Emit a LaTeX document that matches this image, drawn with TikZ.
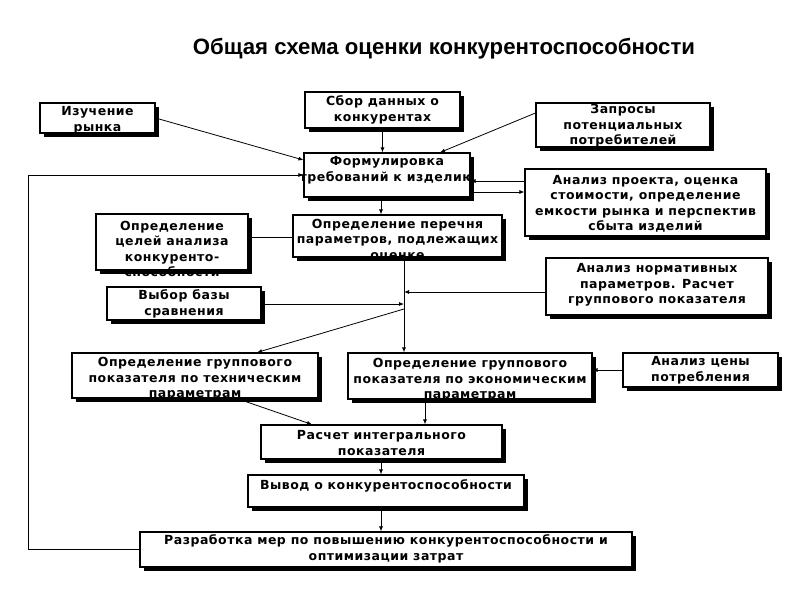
\documentclass[tikz,border=0pt]{standalone}
\usepackage{fontspec}
\setmainfont[LetterSpace=4]{DejaVu Sans}
\newfontfamily\titlefont{Liberation Sans}
\usetikzlibrary{arrows.meta,shadows,calc}
\newcommand\mybox[7]{%
  \node[bx, minimum width={(#4-#2)*1pt}, minimum height={(#5-#3)*1pt}] (#1) at ({(#2+#4)/2},{(#3+#5)/2}) {};
  \node[txt] (#1t) at ({(#2+#4)/2},#6) {#7};
}
\begin{document}
\begin{tikzpicture}[x=1pt,y=-1pt,
  bx/.style={draw=black, line width=1.1pt, fill=white, inner sep=0pt,
    drop shadow={fill=black, opacity=1, shadow xshift=4pt, shadow yshift=-4pt}},
  txt/.style={font=\fontsize{12.5}{15.5}\selectfont\bfseries, align=center, inner sep=0pt},
  ln/.style={line width=0.8pt},
  ar/.style={ln, -{Latex[length=5pt,width=4pt]}}]
\fill[white] (0,0) rectangle (800,600);
\useasboundingbox (0,0) rectangle (800,600);

\node[font=\titlefont\bfseries\fontsize{22.2}{26}\selectfont, inner sep=0pt] (title) at (444,49) {Общая схема оценки конкурентоспособности};

\mybox{izuch}{40}{103}{155}{133}{120}{Изучение\\рынка}
\mybox{sbor}{305}{92}{460}{128}{110}{Сбор данных о\\конкурентах}
\mybox{zapros}{536}{103}{710}{147}{126}{Запросы\\потенциальных\\потребителей}
\mybox{form}{304}{153}{470}{197}{170}{Формулировка\\требований к изделию}
\mybox{analiz}{525}{169}{766}{236}{204}{Анализ проекта, оценка\\стоимости, определение\\емкости рынка и перспектив\\сбыта изделий}
\mybox{celi}{96}{214}{248}{270}{249}{Определение\\целей анализа\\конкуренто-\\способности}
\mybox{perech}{293}{215}{502}{257}{240}{Определение перечня\\параметров, подлежащих\\оценке}
\mybox{norm}{546}{258}{768}{315}{285}{Анализ нормативных\\параметров. Расчет\\группового показателя}
\mybox{vybor}{107}{287}{261}{320}{304}{Выбор базы\\сравнения}
\mybox{tech}{72}{353}{318}{398}{379}{Определение группового\\показателя по техническим\\параметрам}
\mybox{econ}{348}{353}{592}{399}{380}{Определение группового\\показателя по экономическим\\параметрам}
\mybox{cena}{623}{353}{778}{387}{370}{Анализ цены\\потребления}
\mybox{rasch}{261}{425}{502}{459}{443}{Расчет интегрального\\показателя}
\mybox{vyvod}{248}{475}{524}{507}{486}{Вывод о конкурентоспособности}
\mybox{razr}{140}{532}{632}{567}{549}{Разработка мер по повышению конкурентоспособности и\\оптимизации затрат}

\coordinate (fbA) at (28,549.5);
\coordinate (fbB) at (28,175);
\coordinate (jn) at (404,292);
\coordinate (jv) at (404,304);
\coordinate (jd) at (404,309);

\draw[ar] (izuch.east) -- (form.west |- 0,160);
\draw[ar] (sbor.south) -- (sbor.south |- form.north);
\draw[ar] (zapros.west |- 0,113) -- (form.north -| 440,0);
\draw[ar] (razr.west) -- (fbA) -- (fbB) -- (form.west |- fbB);
\draw[ar] (analiz.west |- 0,181) -- (form.east |- 0,181);
\draw[ar] (form.east |- 0,192) -- (analiz.west |- 0,192);
\draw[ar] (form.south -| 381,0) -- (perech.north -| 381,0);
\draw[ln] (celi.east |- 0,237) -- (perech.west |- 0,237);
\draw[ar] (perech.south -| 404,0) -- (econ.north -| 404,0);
\draw[ar] (norm.west |- jn) -- (jn);
\draw[ar] (vybor.east |- jv) -- (jv);
\draw[ar] (jd) -- (tech.north -| 257,0);
\draw[ar] (tech.south -| 237,0) -- (rasch.north -| 312,0);
\draw[ar] (econ.south -| 425,0) -- (rasch.north -| 425,0);
\draw[ar] (cena.west) -- (econ.east |- cena.west);
\draw[ar] (rasch.south -| 381,0) -- (vyvod.north -| 381,0);
\draw[ar] (vyvod.south -| 381,0) -- (razr.north -| 381,0);
\end{tikzpicture}
\end{document}
